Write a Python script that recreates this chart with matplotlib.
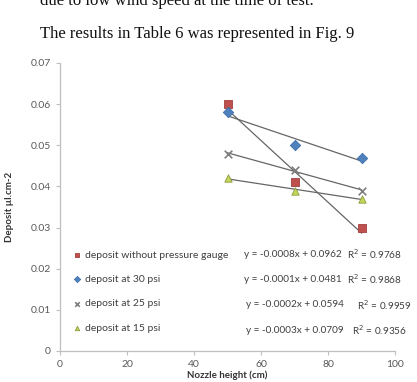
import numpy as np
import matplotlib
matplotlib.use('Agg')
import matplotlib.pyplot as plt

# nozzle height (cm) and deposit (ul/cm2) per series
heights = [50, 70, 90]
dep_no_gauge = [0.060, 0.041, 0.030]
dep_30psi = [0.058, 0.050, 0.047]
dep_25psi = [0.048, 0.044, 0.039]
dep_15psi = [0.042, 0.039, 0.037]

labels = ['deposit without pressure gauge', 'deposit at 30 psi',
          'deposit at 25 psi', 'deposit at 15 psi']
equations = ['y = -0.0008x + 0.0962', 'y = -0.0001x + 0.0481',
             'y = -0.0002x + 0.0594', 'y = -0.0003x + 0.0709']
r2_texts = ['R$^2$ = 0.9768', 'R$^2$ = 0.9868', 'R$^2$ = 0.9959', 'R$^2$ = 0.9356']

series = [dep_no_gauge, dep_30psi, dep_25psi, dep_15psi]
markers = ['s', 'D', 'x', '^']
colors = ['#C0504D', '#4F81BD', '#7F7F7F', '#C6D65A']
edges = ['#A0403D', '#3F71AD', '#555555', '#8A9A3A']

plt.rcParams['font.family'] = ['Lato', 'DejaVu Sans']

fig = plt.figure(figsize=(4.17, 3.82), dpi=100)

# text of the page above the chart
fig.text(40 / 417, 1 - 5 / 382, 'due to low wind speed at the time of test.',
         family='Liberation Serif', fontsize=12, color='#111111', va='baseline')
fig.text(40 / 417, 1 - 38 / 382, 'The results in Table 6 was represented in Fig. 9',
         family='Liberation Serif', fontsize=12, color='#111111', va='baseline')

ax = fig.add_axes([60 / 417, 1 - 351 / 382, 335 / 417, 288 / 382])

handles = []
for vals, m, c, e, lab in zip(series, markers, colors, edges, labels):
    slope, icpt = np.polyfit(heights, vals, 1)
    xs = np.array([heights[0], heights[-1]])
    ax.plot(xs, slope * xs + icpt, color='#666666', lw=0.9, zorder=2)
    if m == 'x':
        h = ax.scatter(heights, vals, marker=m, s=30, color=c, linewidths=1.2,
                       zorder=3, label=lab)
    else:
        h = ax.scatter(heights, vals, marker=m, s=28, color=c, edgecolors=e,
                       linewidths=0.6, zorder=3, label=lab)
    handles.append(h)

# trendline equations
eq_y = [0.0235, 0.0175, 0.0112, 0.0051]
eq_x = [54.8, 54.8, 55.4, 55.4]
r2_x = [85.7, 85.7, 88.7, 87.2]
for ey, ex, rx, eq, r2 in zip(eq_y, eq_x, r2_x, equations, r2_texts):
    ax.text(ex, ey, eq, fontsize=7.2, color='#404040', va='center')
    ax.text(rx, ey, r2, fontsize=7.2, color='#404040', va='center')

leg = ax.legend(handles=handles, loc='upper left', bbox_to_anchor=(0.02, 0.375),
                frameon=False, fontsize=7.5, labelspacing=1.45, handlelength=0.6,
                handletextpad=0.5, markerscale=0.6, borderaxespad=0.3)
for t in leg.get_texts():
    t.set_color('#404040')

ax.set_xlim(0, 100)
ax.set_ylim(0, 0.07)
ax.set_xticks([0, 20, 40, 60, 80, 100])
ax.set_yticks([0, 0.01, 0.02, 0.03, 0.04, 0.05, 0.06, 0.07])
ax.set_yticklabels(['0', '0.01', '0.02', '0.03', '0.04', '0.05', '0.06', '0.07'])
ax.tick_params(labelsize=7.5, labelcolor='#595959', color='#BFBFBF', length=3, width=0.8)
for s in ['top', 'right']:
    ax.spines[s].set_visible(False)
for s in ['left', 'bottom']:
    ax.spines[s].set_color('#BFBFBF')
    ax.spines[s].set_linewidth(0.9)

ax.set_xlabel('Nozzle height (cm)', fontsize=7, fontweight='bold', color='#333333', labelpad=1)
ax.set_ylabel('Deposit µl.cm-2', fontsize=7, fontweight='bold', color='#333333', labelpad=12)

fig.savefig('out.png', dpi=100)
